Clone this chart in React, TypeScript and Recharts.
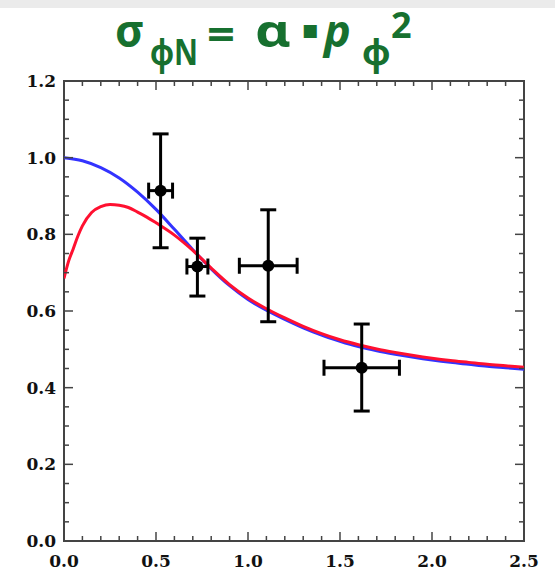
import {
  ComposedChart,
  Line,
  Scatter,
  ErrorBar,
  XAxis,
  YAxis,
  ReferenceArea
} from 'recharts'

// model curves
const blueX = [0, 0.1, 0.2, 0.3, 0.4, 0.5, 0.6, 0.7, 0.8, 0.9, 1.0, 1.1, 1.2, 1.3, 1.4, 1.5, 1.6, 1.7, 1.8, 1.9, 2.0, 2.1, 2.2, 2.3, 2.4, 2.5]
const blueY = [1.0, 0.992, 0.974, 0.947, 0.91, 0.865, 0.813, 0.76, 0.71, 0.666, 0.63, 0.602, 0.578, 0.556, 0.537, 0.521, 0.507, 0.496, 0.487, 0.479, 0.472, 0.466, 0.461, 0.456, 0.452, 0.448]

const redX = [0, 0.025, 0.05, 0.075, 0.1, 0.15, 0.2, 0.25, 0.3, 0.35, 0.4, 0.45, 0.5, 0.6, 0.7, 0.8, 0.9, 1.0, 1.1, 1.2, 1.3, 1.4, 1.5, 1.6, 1.7, 1.8, 1.9, 2.0, 2.1, 2.2, 2.3, 2.4, 2.5]
const redY = [0.685, 0.73, 0.762, 0.795, 0.822, 0.857, 0.872, 0.878, 0.876, 0.87, 0.858, 0.845, 0.83, 0.798, 0.758, 0.712, 0.669, 0.634, 0.606, 0.582, 0.56, 0.541, 0.525, 0.512, 0.501, 0.492, 0.484, 0.477, 0.471, 0.466, 0.461, 0.457, 0.453]

// measured points
const pX = [0.525, 0.725, 1.11, 1.618]
const pY = [0.914, 0.716, 0.718, 0.452]
const pXErr = [0.065, 0.057, 0.157, 0.205]
const pYDown = [0.149, 0.077, 0.146, 0.113]
const pYUp = [0.148, 0.074, 0.146, 0.114]

const xTicks = [0, 0.1, 0.2, 0.3, 0.4, 0.5, 0.6, 0.7, 0.8, 0.9, 1.0, 1.1, 1.2, 1.3, 1.4, 1.5, 1.6, 1.7, 1.8, 1.9, 2.0, 2.1, 2.2, 2.3, 2.4, 2.5]
const yTicks = [0, 0.05, 0.1, 0.15, 0.2, 0.25, 0.3, 0.35, 0.4, 0.45, 0.5, 0.55, 0.6, 0.65, 0.7, 0.75, 0.8, 0.85, 0.9, 0.95, 1.0, 1.05, 1.1, 1.15, 1.2]

const blueData = blueX.map((x, i) => ({ x, y: blueY[i] }))
const redData = redX.map((x, i) => ({ x, y: redY[i] }))
const points = pX.map((x, i) => ({
  x,
  y: pY[i],
  ex: pXErr[i],
  ey: [pYDown[i], pYUp[i]]
}))

const W = 555
const H = 579
const PLOT_W = 460
const PLOT_H = 460
const AXIS = '#444'
const GREEN = '#17702f'
const labelFont = { fontFamily: '"DejaVu Serif", serif', fontWeight: 700, fontSize: 17, fill: '#111' }

const isMajor = (v: number, step: number) => Math.abs(v / step - Math.round(v / step)) < 1e-6

const XTick = (props: any) => {
  const { x, y, payload } = props
  const v = payload.value as number
  const major = isMajor(v, 0.5)
  const len = major ? 9 : 5
  return (
    <g>
      <line x1={x} y1={y} x2={x} y2={y - len} stroke={AXIS} strokeWidth={1.5} />
      <line x1={x} y1={y - PLOT_H} x2={x} y2={y - PLOT_H + len} stroke={AXIS} strokeWidth={1.5} />
      {major && (
        <text x={x} y={y + 26} textAnchor="middle" {...labelFont}>
          {v.toFixed(1)}
        </text>
      )}
    </g>
  )
}

const YTick = (props: any) => {
  const { x, y, payload } = props
  const v = payload.value as number
  const major = isMajor(v, 0.2)
  const len = major ? 9 : 5
  return (
    <g>
      <line x1={x} y1={y} x2={x + len} y2={y} stroke={AXIS} strokeWidth={1.5} />
      <line x1={x + PLOT_W} y1={y} x2={x + PLOT_W - len} y2={y} stroke={AXIS} strokeWidth={1.5} />
      {major && (
        <text x={x - 8} y={y + 6} textAnchor="end" {...labelFont}>
          {v.toFixed(1)}
        </text>
      )}
    </g>
  )
}

const Dot = (props: any) => <circle cx={props.cx} cy={props.cy} r={6} fill="#000" />

export default function App() {
  return (
    <div style={{ position: 'absolute', left: 0, top: 0, width: W, height: H, background: '#fff' }}>
      <div style={{ position: 'absolute', left: 0, top: 0, width: W, height: 8, background: '#ebebeb' }} />
      <svg width={W} height={90} style={{ position: 'absolute', left: 0, top: 0 }}>
        <g fill={GREEN} fontFamily='"Noto Sans", sans-serif' fontWeight={700}>
          <text x={115} y={47} fontSize={45}>σ</text>
          <text x={150} y={65} fontSize={35} textLength={48} lengthAdjust="spacingAndGlyphs">ϕN</text>
          <text x={207} y={50} fontSize={45} textLength={28} lengthAdjust="spacingAndGlyphs">=</text>
          <text x={255} y={47} fontSize={45} textLength={36} lengthAdjust="spacingAndGlyphs">α</text>
          <text x={302} y={36} fontSize={17} fontFamily='"DejaVu Sans", sans-serif'>■</text>
          <text x={324} y={47} fontSize={45} fontStyle="italic">p</text>
          <text x={362} y={65} fontSize={35}>ϕ</text>
          <text x={391} y={38} fontSize={36}>2</text>
        </g>
      </svg>
      <div style={{ position: 'absolute', left: 0, top: 0 }}>
        <ComposedChart width={W} height={H} margin={{ top: 81, right: 31, bottom: 0, left: 0 }}>
          <XAxis
            type="number"
            dataKey="x"
            domain={[0, 2.5]}
            ticks={xTicks}
            interval={0}
            allowDataOverflow
            axisLine={false}
            tickLine={false}
            tickSize={0}
            tickMargin={0}
            height={38}
            tick={<XTick />}
          />
          <YAxis
            type="number"
            domain={[0, 1.2]}
            ticks={yTicks}
            interval={0}
            allowDataOverflow
            axisLine={false}
            tickLine={false}
            tickSize={0}
            tickMargin={0}
            width={64}
            tick={<YTick />}
          />
          <ReferenceArea x1={0} x2={2.5} y1={0} y2={1.2} fill="none" stroke={AXIS} strokeWidth={2} />
          <Line
            data={blueData}
            dataKey="y"
            type="monotone"
            stroke="#3333ff"
            strokeWidth={3}
            dot={false}
            isAnimationActive={false}
          />
          <Line
            data={redData}
            dataKey="y"
            type="monotone"
            stroke="#ff1030"
            strokeWidth={3}
            dot={false}
            isAnimationActive={false}
          />
          <Scatter data={points} dataKey="y" shape={<Dot />} isAnimationActive={false}>
            <ErrorBar dataKey="ex" direction="x" width={8} stroke="#000" strokeWidth={3} />
            <ErrorBar dataKey="ey" direction="y" width={8} stroke="#000" strokeWidth={3} />
          </Scatter>
        </ComposedChart>
      </div>
    </div>
  )
}
